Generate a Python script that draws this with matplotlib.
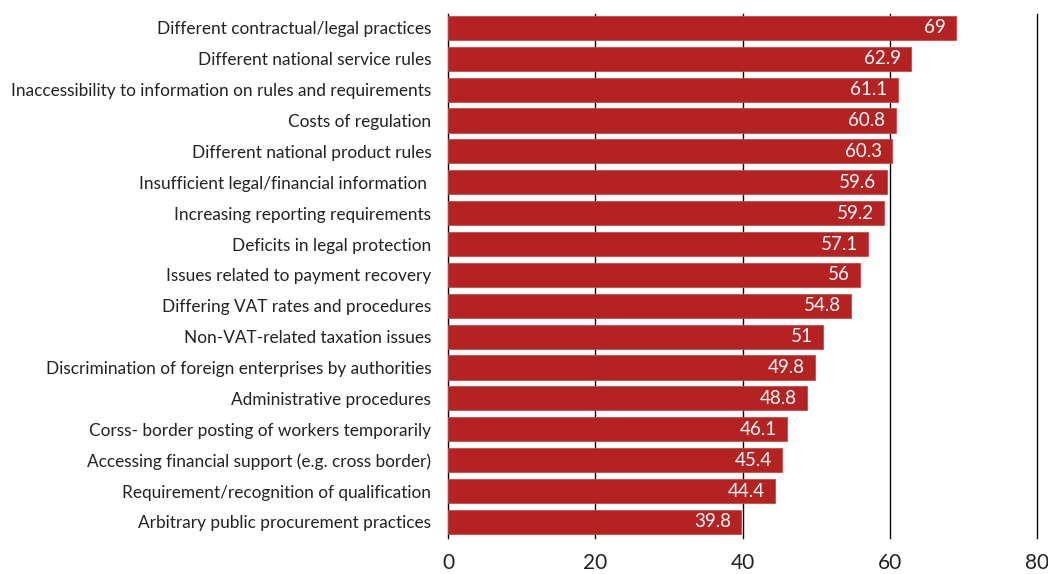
import matplotlib
matplotlib.use("Agg")
import matplotlib.pyplot as plt

categories = [
    "Different contractual/legal practices",
    "Different national service rules",
    "Inaccessibility to information on rules and requirements",
    "Costs of regulation",
    "Different national product rules",
    "Insufficient legal/financial information ",
    "Increasing reporting requirements",
    "Deficits in legal protection",
    "Issues related to payment recovery",
    "Differing VAT rates and procedures",
    "Non-VAT-related taxation issues",
    "Discrimination of foreign enterprises by authorities",
    "Administrative procedures",
    "Corss- border posting of workers temporarily",
    "Accessing financial support (e.g. cross border)",
    "Requirement/recognition of qualification",
    "Arbitrary public procurement practices",
]
values = [69, 62.9, 61.1, 60.8, 60.3, 59.6, 59.2, 57.1, 56, 54.8, 51, 49.8,
          48.8, 46.1, 45.4, 44.4, 39.8]
xticks = [0, 20, 40, 60, 80]

plt.rcParams['font.family'] = ['Lato', 'DejaVu Sans']

fig = plt.figure(figsize=(10.48, 5.74), dpi=100)
ax = fig.add_axes([0.4275, 0.0627, 0.562, 0.913])

pos = list(range(len(categories)))
ax.barh(pos, values, height=0.78, color="#b52222", edgecolor="#c94a4a",
        linewidth=0.6, zorder=3)

# value labels sit inside the right end of each bar
for y, v in zip(pos, values):
    ax.text(v - 1.4, y, f"{v:g}", ha="right", va="center", color="white",
            fontsize=13.5, zorder=4)

ax.set_xlim(0, 80)
ax.set_ylim(len(categories) - 1 + 0.52, -0.45)
ax.set_yticks(pos)
ax.set_yticklabels(categories, fontsize=12.4, color="#222222")
ax.set_xticks(xticks)
ax.set_xticklabels([str(t) for t in xticks], fontsize=15, color="#222222")
ax.tick_params(axis="both", length=0)
ax.tick_params(axis="y", pad=12)
ax.tick_params(axis="x", pad=11)

ax.grid(axis="x", color="black", linewidth=1.0, zorder=1)
# keep the line at 80 from being cut in half by the axes edge
for gl in ax.get_xgridlines():
    gl.set_clip_on(False)
for s in ax.spines.values():
    s.set_visible(False)

fig.savefig("out.png", dpi=100)
